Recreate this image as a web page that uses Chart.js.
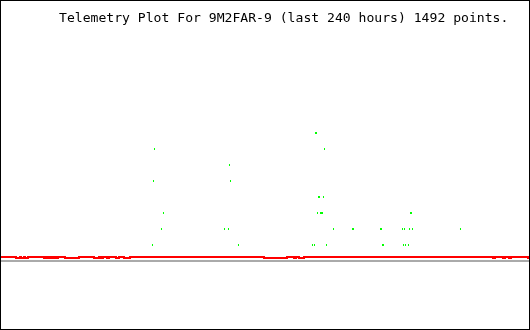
<!DOCTYPE html>
<html lang="en">
<head>
<meta charset="utf-8">
<title>Telemetry Plot For 9M2FAR-9</title>
<script src="https://cdn.jsdelivr.net/npm/chart.js@4.4.1/dist/chart.umd.min.js"></script>
<style>
  html, body { margin: 0; padding: 0; background: #fff; }
  #cadre { width: 530px; height: 330px; box-sizing: border-box; border: 1px solid #000; }
  #cadre canvas { display: block; }
</style>
</head>
<body>
<div id="cadre"><canvas id="graph" width="528" height="328"></canvas></div>
<script>
// Titre et bornes des axes (heures sur 240 h, valeur en unites de telemetrie)
const TITRE = "Telemetry Plot For 9M2FAR-9 (last 240 hours) 1492 points.";
const HEURES_MIN = 0;
const HEURES_MAX = 240;
const VAL_MIN = -4.25;
const VAL_MAX = 16.25;

// Ligne de reference grise
const grisHeures = [0, 240];
const grisValeurs = [0, 0];

// Trace rouge : chaque valeur tient jusqu'au point suivant (0.25 normal, 0.1875 creux)
const rougeHeures = [0,
  6.82, 8.64, 9.09, 10.45, 10.91, 12.27,
  19.55, 20.45, 20.91, 21.82, 22.27, 23.18, 23.64, 24.55, 25.0, 25.91,
  29.09, 35.45,
  42.27, 44.55, 45.45, 46.36, 48.18, 49.09, 52.27, 53.64, 55.91, 58.64,
  119.55, 130.0, 133.18, 134.09, 135.45, 137.73,
  223.64, 224.55, 228.18, 229.09, 230.91, 231.82,
  239.55, 240];
const rougeValeurs = [0.25,
  0.1875, 0.25, 0.1875, 0.25, 0.1875, 0.25,
  0.1875, 0.25, 0.1875, 0.25, 0.1875, 0.25, 0.1875, 0.25, 0.1875, 0.25,
  0.1875, 0.25,
  0.1875, 0.25, 0.1875, 0.25, 0.1875, 0.25, 0.1875, 0.25, 0.1875, 0.25,
  0.1875, 0.25, 0.1875, 0.25, 0.1875, 0.25,
  0.1875, 0.25, 0.1875, 0.25, 0.1875, 0.25,
  0.1875, 0.1875];

// Points verts (niveaux discrets)
const vertHeures = [
  142.95, 143.41,
  69.77, 147.05,
  103.86,
  69.32, 104.32,
  144.32, 144.77, 146.59,
  73.86, 143.86, 145.23, 145.68, 146.14, 186.14, 186.59,
  72.95, 101.59, 103.41, 151.14, 159.77, 160.23, 172.5, 172.95, 182.5, 183.41, 185.68, 187.05, 208.86,
  68.86, 107.95, 141.59, 142.5, 147.95, 173.41, 173.86, 182.95, 183.86, 185.23
];
const vertValeurs = [
  8, 8,
  7, 7,
  6,
  5, 5,
  4, 4, 4,
  3, 3, 3, 3, 3, 3, 3,
  2, 2, 2, 2, 2, 2, 2, 2, 2, 2, 2, 2, 2,
  1, 1, 1, 1, 1, 1, 1, 1, 1, 1
];

function enPoints(xs, ys) {
  return xs.map((x, i) => ({ x: x, y: ys[i] }));
}

// Titre en police a chasse fixe, en haut a droite du cadre
const pluginTitre = {
  id: "titreTelemetrie",
  afterDraw(chart) {
    const ctx = chart.ctx;
    ctx.save();
    ctx.font = '13.1px "DejaVu Sans Mono", monospace';
    ctx.fillStyle = "#000";
    ctx.textAlign = "left";
    ctx.textBaseline = "alphabetic";
    ctx.fillText(TITRE, 58, 21);
    ctx.restore();
  }
};

new Chart(document.getElementById("graph"), {
  type: "line",
  data: {
    datasets: [
      {
        label: "ref",
        data: enPoints(grisHeures, grisValeurs),
        borderColor: "#aaaaaa",
        borderWidth: 2,
        pointRadius: 0,
        borderCapStyle: "butt"
      },
      {
        label: "rouge",
        data: enPoints(rougeHeures, rougeValeurs),
        borderColor: "#ff0000",
        borderWidth: 2,
        pointRadius: 0,
        stepped: "before",
        borderCapStyle: "butt",
        borderJoinStyle: "miter"
      },
      {
        label: "vert",
        data: enPoints(vertHeures, vertValeurs),
        showLine: false,
        pointStyle: "line",
        rotation: 90,
        pointRadius: 1,
        pointBorderWidth: 1,
        pointBorderColor: "#00ff00",
        pointBackgroundColor: "#00ff00"
      }
    ]
  },
  options: {
    responsive: false,
    animation: false,
    devicePixelRatio: 1,
    layout: { padding: 0, autoPadding: false },
    plugins: { legend: { display: false }, tooltip: { enabled: false }, title: { display: false } },
    scales: {
      x: { type: "linear", min: HEURES_MIN, max: HEURES_MAX, display: false },
      y: { type: "linear", min: VAL_MIN, max: VAL_MAX, display: false }
    }
  },
  plugins: [pluginTitre]
});
</script>
</body>
</html>
